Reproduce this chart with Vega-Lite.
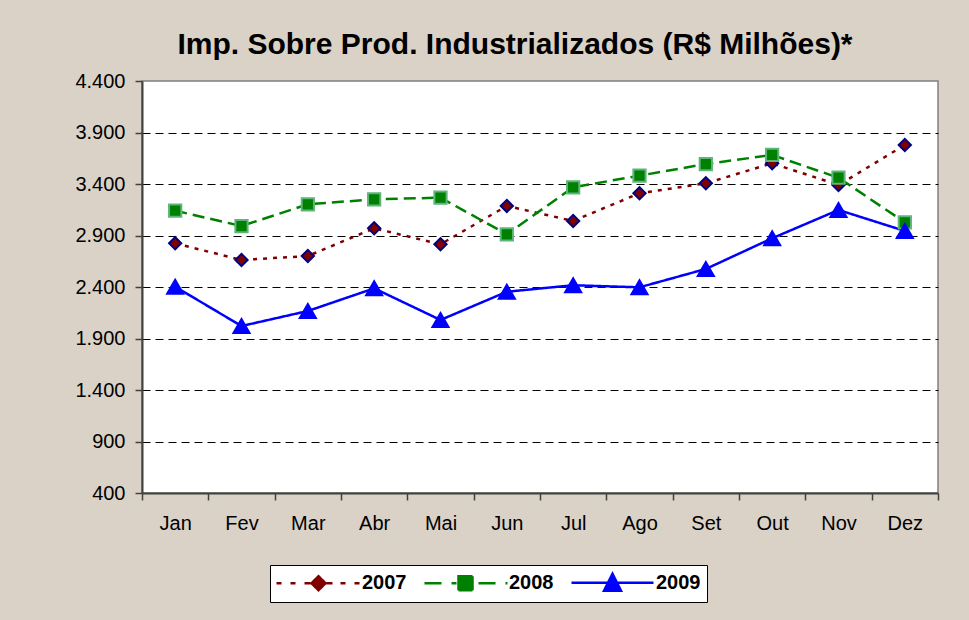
{
  "$schema": "https://vega.github.io/schema/vega-lite/v6.json",
  "width": 796,
  "height": 412,
  "autosize": {"type": "none"},
  "padding": {"left": 142, "top": 81, "right": 31, "bottom": 127},
  "background": "#DAD2C6",
  "config": {
    "locale": {"number": {"decimal": ",", "thousands": ".", "grouping": [3], "currency": ["R$", ""]}},
    "view": {"fill": "white", "stroke": "#808080", "strokeWidth": 1.5},
    "font": "Liberation Sans"
  },
  "title": {
    "text": "Imp. Sobre Prod. Industrializados (R$ Milhões)*",
    "fontSize": 30,
    "fontWeight": "bold",
    "color": "black",
    "font": "Liberation Sans",
    "anchor": "middle",
    "dx": -25,
    "offset": 11
  },
  "data": {
    "values": [
      {"mes": "Jan", "ano": "2007", "valor": 2824},
      {"mes": "Fev", "ano": "2007", "valor": 2662},
      {"mes": "Mar", "ano": "2007", "valor": 2701},
      {"mes": "Abr", "ano": "2007", "valor": 2970},
      {"mes": "Mai", "ano": "2007", "valor": 2815},
      {"mes": "Jun", "ano": "2007", "valor": 3187},
      {"mes": "Jul", "ano": "2007", "valor": 3041},
      {"mes": "Ago", "ano": "2007", "valor": 3310},
      {"mes": "Set", "ano": "2007", "valor": 3407},
      {"mes": "Out", "ano": "2007", "valor": 3601},
      {"mes": "Nov", "ano": "2007", "valor": 3390},
      {"mes": "Dez", "ano": "2007", "valor": 3779},
      {"mes": "Jan", "ano": "2008", "valor": 3141},
      {"mes": "Fev", "ano": "2008", "valor": 2992},
      {"mes": "Mar", "ano": "2008", "valor": 3203},
      {"mes": "Abr", "ano": "2008", "valor": 3251},
      {"mes": "Mai", "ano": "2008", "valor": 3267},
      {"mes": "Jun", "ano": "2008", "valor": 2912},
      {"mes": "Jul", "ano": "2008", "valor": 3368},
      {"mes": "Ago", "ano": "2008", "valor": 3481},
      {"mes": "Set", "ano": "2008", "valor": 3594},
      {"mes": "Out", "ano": "2008", "valor": 3682},
      {"mes": "Nov", "ano": "2008", "valor": 3461},
      {"mes": "Dez", "ano": "2008", "valor": 3028},
      {"mes": "Jan", "ano": "2009", "valor": 2403},
      {"mes": "Fev", "ano": "2009", "valor": 2021},
      {"mes": "Mar", "ano": "2009", "valor": 2167},
      {"mes": "Abr", "ano": "2009", "valor": 2387},
      {"mes": "Mai", "ano": "2009", "valor": 2080},
      {"mes": "Jun", "ano": "2009", "valor": 2354},
      {"mes": "Jul", "ano": "2009", "valor": 2417},
      {"mes": "Ago", "ano": "2009", "valor": 2397},
      {"mes": "Set", "ano": "2009", "valor": 2575},
      {"mes": "Out", "ano": "2009", "valor": 2873},
      {"mes": "Nov", "ano": "2009", "valor": 3148},
      {"mes": "Dez", "ano": "2009", "valor": 2944}
    ]
  },
  "encoding": {
    "x": {
      "field": "mes",
      "type": "ordinal",
      "sort": ["Jan", "Fev", "Mar", "Abr", "Mai", "Jun", "Jul", "Ago", "Set", "Out", "Nov", "Dez"],
      "scale": {"type": "band", "paddingInner": 0, "paddingOuter": 0},
      "bandPosition": 0.5,
      "axis": {
        "title": null,
        "labelAngle": 0,
        "labelFontSize": 20,
        "labelColor": "black",
        "labelFont": "Liberation Sans",
        "tickBand": "extent",
        "tickSize": 7,
        "tickColor": "#404040",
        "tickWidth": 1.5,
        "domainColor": "#404040",
        "domainWidth": 2,
        "labelPadding": 13,
        "grid": false
      }
    },
    "y": {
      "field": "valor",
      "type": "quantitative",
      "scale": {"domain": [400, 4400], "nice": false, "zero": false},
      "axis": {
        "title": null,
        "values": [400, 900, 1400, 1900, 2400, 2900, 3400, 3900, 4400],
        "format": ",.0f",
        "labelFontSize": 20,
        "labelColor": "black",
        "labelFont": "Liberation Sans",
        "tickSize": 7,
        "tickColor": "#404040",
        "tickWidth": 1.5,
        "labelPadding": 10,
        "domainColor": "#404040",
        "domainWidth": 2,
        "grid": true,
        "gridColor": "black",
        "gridDash": [8, 5],
        "gridOpacity": {"condition": {"test": "datum.value === 400 || datum.value === 4400", "value": 0}, "value": 1}
      }
    }
  },
  "layer": [
    {
      "mark": {"type": "line", "strokeWidth": 2.5},
      "encoding": {
        "color": {
          "field": "ano",
          "type": "nominal",
          "scale": {"domain": ["2007", "2008", "2009"], "range": ["#800000", "#008000", "#0000FF"]},
          "legend": {
            "orient": "none",
            "legendX": 128,
            "legendY": 484,
            "direction": "horizontal",
            "title": null,
            "fillColor": "white",
            "strokeColor": "black",
            "padding": 6,
            "symbolSize": 400,
            "symbolStrokeWidth": 2.5,
            "labelFontSize": 20,
            "labelFontWeight": "bold",
            "labelFont": "Liberation Sans",
            "labelColor": "black",
            "labelOffset": 63,
            "columnPadding": 12,
            "encode": {
              "symbols": {
                "update": {
                  "shape": {"signal": "datum.value === '2007' ? 'M-1.1,0H-0.6M0.3,0H0.8M1.7,0H2.3M3.1,-0.7L3.8,0L3.1,0.7L2.4,0ZM3.9,0H4.5M5.3,0H5.8M6.7,0H7.2' : datum.value === '2008' ? 'M-1,0H0.7M1.7,0H2.2M2.4,-0.7H3.8V0.7H2.4ZM4.4,0H6.1M7.1,0H7.3' : 'M-1,0H7.2M3.1,-0.9L3.95,0.8L2.25,0.8Z'"},
                  "fill": {"signal": "datum.value === '2007' ? '#800000' : datum.value === '2008' ? '#008000' : '#0000FF'"},
                  "strokeDash": {"value": [1, 0]},
                  "strokeWidth": {"value": 2.5},
                  "opacity": {"value": 1},
                  "fillOpacity": {"value": 1},
                  "strokeOpacity": {"value": 1}
                }
              }
            }
          }
        },
        "strokeDash": {
          "field": "ano",
          "type": "nominal",
          "scale": {"domain": ["2009", "2008", "2007"], "range": [[1, 0], [12, 6], [4, 6]]},
          "legend": null
        }
      }
    },
    {
      "mark": {
        "type": "point",
        "filled": true,
        "opacity": 1,
        "strokeWidth": 2,
        "size": {"expr": "datum.ano === '2009' ? 260 : 150"}
      },
      "encoding": {
        "shape": {
          "field": "ano",
          "type": "nominal",
          "scale": {"domain": ["2009", "2008", "2007"], "range": ["triangle-up", "square", "diamond"]},
          "legend": null
        },
        "fill": {
          "field": "ano",
          "type": "nominal",
          "scale": {"domain": ["2009", "2008", "2007"], "range": ["#0000FF", "#008000", "#800000"]},
          "legend": null
        },
        "stroke": {
          "field": "ano",
          "type": "nominal",
          "scale": {"domain": ["2009", "2008", "2007"], "range": ["#0000FF", "#5DB57A", "#000080"]},
          "legend": null
        }
      }
    }
  ]
}
